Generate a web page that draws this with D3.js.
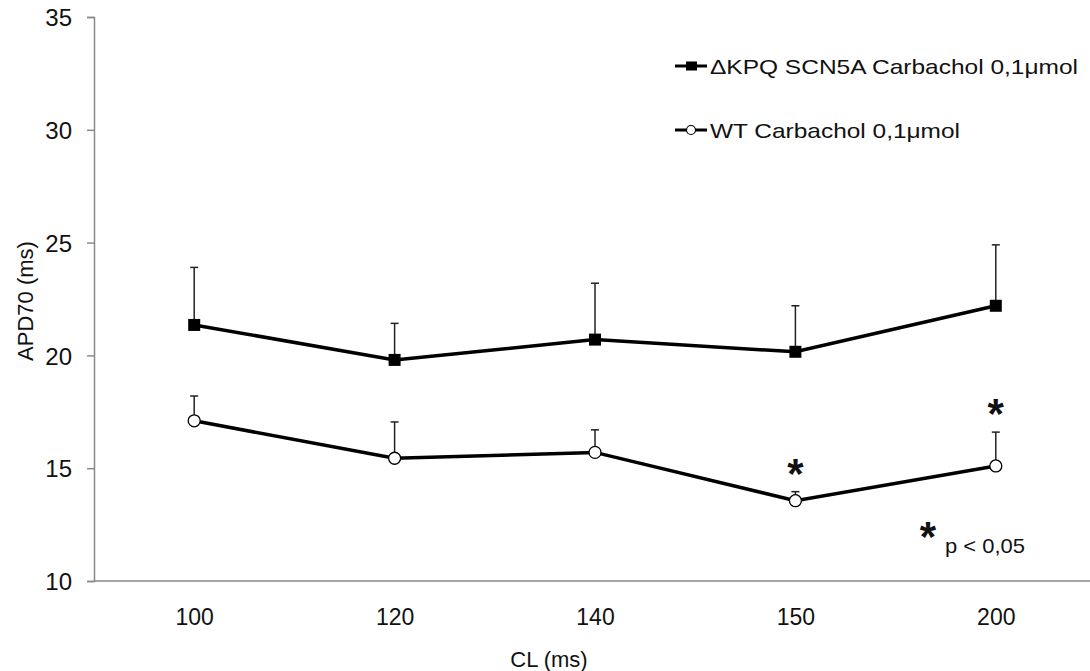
<!DOCTYPE html>
<html>
<head>
<meta charset="utf-8">
<script src="https://cdn.jsdelivr.net/npm/d3@7"></script>
<style>
  body { margin: 0; background: #fff; }
  svg { display: block; font-family: "Liberation Sans", Arial, sans-serif; }
</style>
</head>
<body>
<svg width="1090" height="671"></svg>
<script>
// chart data
const categories = ["100", "120", "140", "150", "200"];
const kpqMean = [21.35, 19.8, 20.7, 20.16, 22.2];
const kpqErr = [2.55, 1.62, 2.5, 2.04, 2.7];
const wtMean = [17.1, 15.44, 15.7, 13.56, 15.1];
const wtErr = [1.1, 1.61, 1.0, 0.4, 1.5];
const wtSignificant = [false, false, false, true, true];
const yTicks = [10, 15, 20, 25, 30, 35];
const seriesNames = ["\u0394KPQ SCN5A Carbachol 0,1\u03bcmol", "WT Carbachol 0,1\u03bcmol"];

function draw() {
    const svg = d3.select("svg");
    svg.selectAll("*").remove();

    const axisColor = "#898989";

    const x = d3.scalePoint()
        .domain(categories)
        .range([94, 1096])
        .padding(0.5);

    const y = d3.scaleLinear()
        .domain([10, 35])
        .range([581, 17]);

    // y axis
    const yAxis = svg.append("g")
        .attr("transform", "translate(94,0)")
        .call(d3.axisLeft(y).tickValues(yTicks).tickSize(7).tickPadding(15).tickFormat(d3.format("d")));
    yAxis.select(".domain").attr("stroke", axisColor).attr("stroke-width", 1.5);
    yAxis.selectAll(".tick line").attr("stroke", axisColor).attr("stroke-width", 1.5);
    yAxis.selectAll(".tick text")
        .attr("fill", "#111")
        .style("font-size", "24px")
        .attr("dy", "0.36em");

    // x axis (no tick marks)
    const xAxis = svg.append("g")
        .attr("transform", "translate(0,581)")
        .call(d3.axisBottom(x).tickSize(0).tickPadding(28));
    xAxis.select(".domain").attr("stroke", axisColor).attr("stroke-width", 1.5)
        .attr("d", "M94,0H1096");
    xAxis.selectAll(".tick text")
        .attr("fill", "#111")
        .style("font-size", "23px");

    // axis titles
    svg.append("text")
        .attr("transform", "translate(33,301) rotate(-90)")
        .attr("text-anchor", "middle")
        .attr("fill", "#111")
        .style("font-size", "22px")
        .text("APD70 (ms)");

    svg.append("text")
        .attr("x", 549)
        .attr("y", 667)
        .attr("text-anchor", "middle")
        .attr("fill", "#111")
        .style("font-size", "22px")
        .text("CL (ms)");

    const line = d3.line()
        .x((d, i) => x(categories[i]))
        .y(d => y(d));

    const series = [
        { mean: kpqMean, err: kpqErr, shape: "square" },
        { mean: wtMean, err: wtErr, shape: "circle" }
    ];

    // error bars (upper only)
    series.forEach(s => {
        const g = svg.append("g").attr("class", "errors");
        s.mean.forEach((m, i) => {
            const cx = x(categories[i]);
            g.append("line")
                .attr("x1", cx).attr("x2", cx)
                .attr("y1", y(m)).attr("y2", y(m + s.err[i]))
                .attr("stroke", "#222").attr("stroke-width", 1.5);
            g.append("line")
                .attr("x1", cx - 4).attr("x2", cx + 4)
                .attr("y1", y(m + s.err[i])).attr("y2", y(m + s.err[i]))
                .attr("stroke", "#222").attr("stroke-width", 1.5);
        });
    });

    // lines and markers
    series.forEach(s => {
        svg.append("path")
            .datum(s.mean)
            .attr("fill", "none")
            .attr("stroke", "#000")
            .attr("stroke-width", 3.5)
            .attr("d", line);

        const pts = svg.append("g").selectAll("g")
            .data(s.mean)
            .enter().append("g")
            .attr("transform", (d, i) => `translate(${x(categories[i])},${y(d)})`);

        if (s.shape === "square") {
            pts.append("rect")
                .attr("x", -6).attr("y", -6)
                .attr("width", 12).attr("height", 12)
                .attr("fill", "#000");
        } else {
            pts.append("circle")
                .attr("r", 6)
                .attr("fill", "#fff")
                .attr("stroke", "#000")
                .attr("stroke-width", 1.3);
        }
    });

    // significance stars above WT error bars
    svg.append("g").selectAll("text")
        .data(wtMean.map((m, i) => ({ m, e: wtErr[i], c: categories[i], s: wtSignificant[i] })).filter(d => d.s))
        .enter().append("text")
        .attr("x", d => x(d.c))
        .attr("y", d => y(d.m + d.e) - 4)
        .attr("text-anchor", "middle")
        .attr("fill", "#111")
        .style("font-size", "42px")
        .style("font-weight", "bold")
        .text("*");

    // p-value note
    svg.append("text")
        .attr("x", 928)
        .attr("y", 551)
        .attr("text-anchor", "middle")
        .attr("fill", "#111")
        .style("font-size", "42px")
        .style("font-weight", "bold")
        .text("*");
    svg.append("text")
        .attr("x", 945)
        .attr("y", 553)
        .attr("fill", "#111")
        .style("font-size", "21px")
        .attr("textLength", 80)
        .attr("lengthAdjust", "spacingAndGlyphs")
        .text("p < 0,05");

    // legend
    const legend = svg.append("g").attr("class", "legend");
    const rows = [
        { name: seriesNames[0], shape: "square", y: 66, len: 368 },
        { name: seriesNames[1], shape: "circle", y: 130, len: 250 }
    ];
    rows.forEach(r => {
        const g = legend.append("g").attr("transform", `translate(0,${r.y})`);
        g.append("line")
            .attr("x1", 675).attr("x2", 707)
            .attr("y1", 0).attr("y2", 0)
            .attr("stroke", "#000").attr("stroke-width", 3);
        if (r.shape === "square") {
            g.append("rect")
                .attr("x", 686).attr("y", -4.5)
                .attr("width", 11).attr("height", 9)
                .attr("fill", "#000");
        } else {
            g.append("circle")
                .attr("cx", 691).attr("cy", 0).attr("r", 4.5)
                .attr("fill", "#fff").attr("stroke", "#000").attr("stroke-width", 1.2);
        }
        g.append("text")
            .attr("x", 710)
            .attr("y", 7.5)
            .attr("fill", "#111")
            .style("font-size", "21px")
            .attr("textLength", r.len)
            .attr("lengthAdjust", "spacingAndGlyphs")
            .text(r.name);
    });
}

document.addEventListener('DOMContentLoaded', function() {
    draw();
});
</script>
</body>
</html>
